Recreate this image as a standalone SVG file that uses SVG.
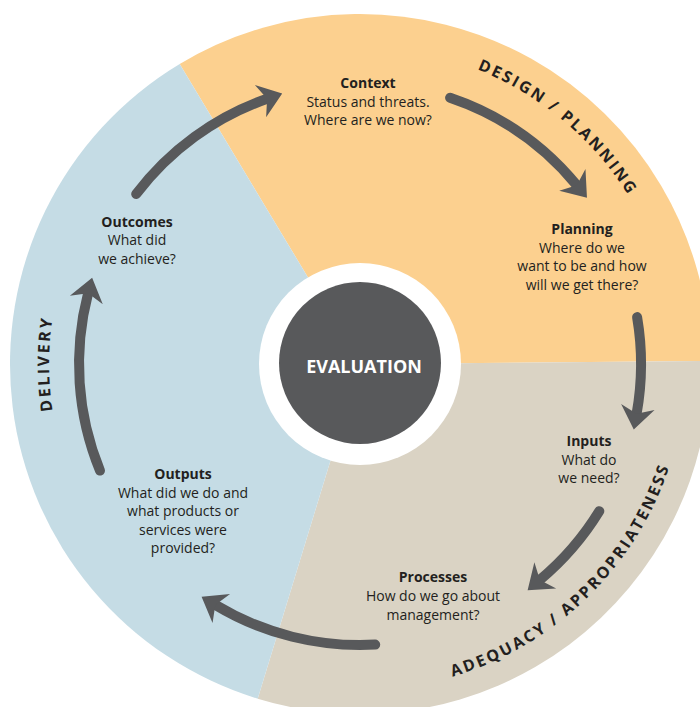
<svg xmlns="http://www.w3.org/2000/svg" xmlns:xlink="http://www.w3.org/1999/xlink" width="700" height="707" viewBox="0 0 700 707">
  <style>
    text { font-family: "Open Sans", "Liberation Sans", sans-serif; fill: #231F20; }
    .label { font-size: 14px; text-anchor: middle; }
    .title { font-weight: bold; }
    .phase { font-size: 16px; font-weight: bold; letter-spacing: 2.4px; }
    .arrow { fill: none; stroke: #58595B; stroke-width: 10; stroke-linecap: round; marker-end: url(#head); }
  </style>
  <defs>
    <marker id="head" markerUnits="userSpaceOnUse" markerWidth="40" markerHeight="40" refX="0" refY="0" orient="auto" overflow="visible">
      <path d="M16,0 L-7,-17 L0,0 L-7,17 Z" fill="#58595B"/>
    </marker>
    <!-- baselines for the curved phase titles, all centred on (360,364) -->
    <path id="arcDesign" d="M359.45,47 A317 317 0 0 1 672.1,308.4"/>
    <path id="arcDelivery" d="M121.8,563.9 A311 311 0 0 1 121.8,164.1"/>
    <path id="arcAdequacy" d="M326.8,688.3 A326 326 0 0 0 685.1,340.4"/>
  </defs>

  <rect width="700" height="707" fill="#FFFFFF"/>

  <!-- three phase wedges of the outer wheel -->
  <g id="sectors">
    <path id="sector-design" d="M360,364 L179.7,64 A350 350 0 0 1 710,360.9 Z" fill="#FCD08F"/>
    <path id="sector-adequacy" d="M360,364 L710,360.9 A350 350 0 0 1 257.7,698.7 Z" fill="#DAD3C4"/>
    <path id="sector-delivery" d="M360,364 L257.7,698.7 A350 350 0 0 1 179.7,64 Z" fill="#C5DCE5"/>
  </g>

  <!-- phase titles set along the rim -->
  <g id="phase-titles">
    <text class="phase"><textPath xlink:href="#arcDesign" href="#arcDesign" startOffset="50%" text-anchor="middle">DESIGN / PLANNING</textPath></text>
    <text class="phase"><textPath xlink:href="#arcDelivery" href="#arcDelivery" startOffset="50%" text-anchor="middle">DELIVERY</textPath></text>
    <text class="phase"><textPath xlink:href="#arcAdequacy" href="#arcAdequacy" startOffset="50%" text-anchor="middle">ADEQUACY / APPROPRIATENESS</textPath></text>
  </g>

  <!-- cycle arrows on a 281px ring -->
  <g id="connectors">
    <path class="arrow" d="M136.2,194.1 A281 281 0 0 1 267.1,98.8"/>
    <path class="arrow" d="M450.1,97.8 A281 281 0 0 1 576.8,185.3"/>
    <path class="arrow" d="M637.1,317.1 A281 281 0 0 1 636.6,413.8"/>
    <path class="arrow" d="M599.3,511.2 A281 281 0 0 1 539.9,579.9"/>
    <path class="arrow" d="M375.2,644.6 A281 281 0 0 1 215.3,604.9"/>
    <path class="arrow" d="M100,470.6 A281 281 0 0 1 88.1,293.2"/>
  </g>

  <g id="evaluation">
    <circle cx="360" cy="364" r="101" fill="#FFFFFF"/>
    <circle cx="360" cy="363" r="81" fill="#58595B"/>
    <text x="364" y="373" font-size="18" font-weight="bold" text-anchor="middle" style="fill:#FFFFFF">EVALUATION</text>
  </g>

  <g id="context">
    <text class="label" x="368"><tspan class="title" x="368" y="88">Context</tspan><tspan x="368" y="106.5">Status and threats.</tspan><tspan x="368" y="125">Where are we now?</tspan></text>
  </g>

  <g id="planning">
    <text class="label" x="582"><tspan class="title" x="582" y="234">Planning</tspan><tspan x="582" y="252.5">Where do we</tspan><tspan x="582" y="271">want to be and how</tspan><tspan x="582" y="289.5">will we get there?</tspan></text>
  </g>

  <g id="inputs">
    <text class="label" x="589"><tspan class="title" x="589" y="446">Inputs</tspan><tspan x="589" y="464.5">What do</tspan><tspan x="589" y="483">we need?</tspan></text>
  </g>

  <g id="processes">
    <text class="label" x="433"><tspan class="title" x="433" y="581.5">Processes</tspan><tspan x="433" y="600.5">How do we go about</tspan><tspan x="433" y="619.5">management?</tspan></text>
  </g>

  <g id="outputs">
    <text class="label" x="183"><tspan class="title" x="183" y="479">Outputs</tspan><tspan x="183" y="497.5">What did we do and</tspan><tspan x="183" y="516">what products or</tspan><tspan x="183" y="534.5">services were</tspan><tspan x="183" y="553">provided?</tspan></text>
  </g>

  <g id="outcomes">
    <text class="label" x="137"><tspan class="title" x="137" y="226.5">Outcomes</tspan><tspan x="137" y="245">What did</tspan><tspan x="137" y="263.5">we achieve?</tspan></text>
  </g>
</svg>
